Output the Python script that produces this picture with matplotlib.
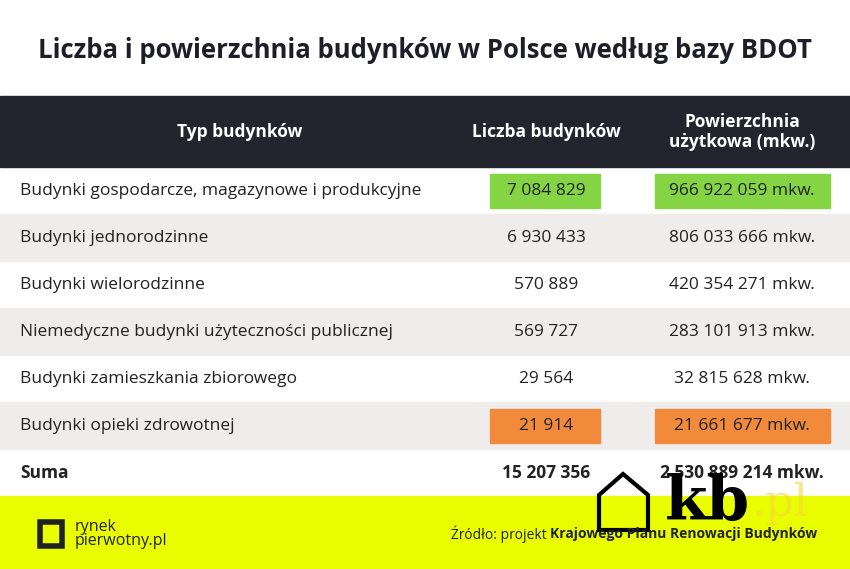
import matplotlib.pyplot as plt
from matplotlib.patches import Rectangle, Polygon

plt.rcParams["font.family"] = "Open Sans"

title = "Liczba i powierzchnia budynków w Polsce według bazy BDOT"
headers = ["Typ budynków", "Liczba budynków", "Powierzchnia\nużytkowa (mkw.)"]
types = ["Budynki gospodarcze, magazynowe i produkcyjne", "Budynki jednorodzinne",
         "Budynki wielorodzinne", "Niemedyczne budynki użyteczności publicznej",
         "Budynki zamieszkania zbiorowego", "Budynki opieki zdrowotnej"]
counts = ["7 084 829", "6 930 433", "570 889", "569 727", "29 564", "21 914"]
areas = ["966 922 059 mkw.", "806 033 666 mkw.", "420 354 271 mkw.",
         "283 101 913 mkw.", "32 815 628 mkw.", "21 661 677 mkw."]
total_count = "15 207 356"
total_area = "2 530 889 214 mkw."
highlight = {0: "#84d444", 5: "#f28a3c"}

fig = plt.figure(figsize=(8.5, 5.69), dpi=100)
ax = fig.add_axes([0, 0, 1, 1])
ax.set_xlim(0, 850)
ax.set_ylim(569, 0)
ax.axis("off")

ax.text(425, 50, title, ha="center", va="center", fontsize=18.5, fontweight="bold", color="#1e1e28")

# header band
ax.add_patch(Rectangle((0, 96), 850, 71, color="#24242f"))
hx = [240, 546, 742]
for x, h in zip(hx, headers):
    ax.text(x, 132, h, ha="center", va="center", fontsize=12.5, fontweight="bold", color="white",
            linespacing=1.15)

row_h = 47
y0 = 167
for i, (t, c, a) in enumerate(zip(types, counts, areas)):
    top = y0 + i * row_h
    cy = top + row_h / 2
    if i % 2 == 1:
        ax.add_patch(Rectangle((0, top), 850, row_h, color="#efedeb"))
    if i in highlight:
        ax.add_patch(Rectangle((490, top + 7), 110, 34, color=highlight[i]))
        ax.add_patch(Rectangle((655, top + 7), 175, 34, color=highlight[i]))
    ax.text(20, cy, t, ha="left", va="center", fontsize=12.5, color="#222")
    ax.text(546, cy, c, ha="center", va="center", fontsize=12.5, color="#222")
    ax.text(742, cy, a, ha="center", va="center", fontsize=12.5, color="#222")

cy = y0 + 6 * row_h + row_h / 2
ax.text(20, cy, "Suma", ha="left", va="center", fontsize=12.5, fontweight="bold", color="#222")
ax.text(546, cy, total_count, ha="center", va="center", fontsize=12.5, fontweight="bold", color="#222")
ax.text(742, cy, total_area, ha="center", va="center", fontsize=12.5, fontweight="bold", color="#222")

# footer
ax.add_patch(Rectangle((0, 496), 850, 73, color="#e9ff00"))
ax.add_patch(Rectangle((40, 522), 22, 24, fill=False, lw=4, ec="#222"))
ax.text(75, 534, "rynek\npierwotny.pl", ha="left", va="center", fontsize=11.5, color="#222",
        linespacing=0.9)
src = ax.text(817, 534, "Krajowego Planu Renowacji Budynków", ha="right", va="center",
              fontsize=10, fontweight="bold", color="#222")
fig.canvas.draw()
bb = src.get_window_extent()
x_left = ax.transData.inverted().transform((bb.x0, bb.y0))[0]
ax.text(x_left - 3, 534, "Źródło: projekt", ha="right", va="center", fontsize=10, color="#222")

# watermark
ax.add_patch(Polygon([(599, 530), (599, 495), (623, 474), (648, 495), (648, 530)],
                     closed=True, fill=False, lw=3, ec="black"))
ax.text(665, 503, "kb", ha="left", va="center", fontsize=44, fontweight="bold",
        fontfamily="DejaVu Serif", color="black")
ax.text(752, 503, ".pl", ha="left", va="center", fontsize=32, fontfamily="DejaVu Serif",
        color="#f5d63c", alpha=0.6)

fig.savefig("out.png", dpi=100)
